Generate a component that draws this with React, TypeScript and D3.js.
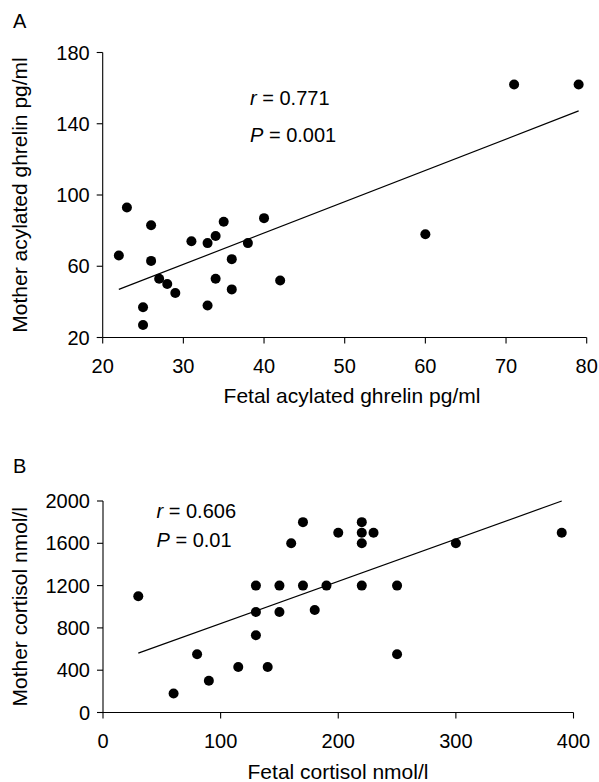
import React from "react";
import * as d3 from "d3";

// Panel A data
const fetalGhrelin = [22, 23, 26, 26, 27, 28, 29, 25, 25, 31, 33, 34, 35, 38, 36, 34, 36, 33, 40, 42, 60, 71, 79];
const motherGhrelin = [66, 93, 83, 63, 53, 50, 45, 37, 27, 74, 73, 77, 85, 73, 64, 53, 47, 38, 87, 52, 78, 162, 162];
const fitA = [
  { x: 22, y: 47 },
  { x: 79, y: 147.2 },
];
const xTicksA = [20, 30, 40, 50, 60, 70, 80];
const yTicksA = [20, 60, 100, 140, 180];

// Panel B data
const fetalCortisol = [170, 160, 200, 220, 220, 230, 220, 300, 390, 130, 150, 170, 190, 220, 250, 30, 130, 150, 180, 130, 80, 250, 115, 140, 90, 60];
const motherCortisol = [1800, 1600, 1700, 1800, 1700, 1700, 1600, 1600, 1700, 1200, 1200, 1200, 1200, 1200, 1200, 1100, 950, 950, 970, 730, 550, 550, 430, 430, 300, 180];
const fitB = [
  { x: 30, y: 562 },
  { x: 390, y: 2000 },
];
const xTicksB = [0, 100, 200, 300, 400];
const yTicksB = [0, 400, 800, 1200, 1600, 2000];

const FONT = "'Liberation Sans', Arial, Helvetica, sans-serif";

type PanelProps = {
  letter: string;
  letterY: number;
  xs: number[];
  ys: number[];
  fit: { x: number; y: number }[];
  xDomain: [number, number];
  yDomain: [number, number];
  xRange: [number, number];
  yRange: [number, number];
  xTicks: number[];
  yTicks: number[];
  xTitle: string;
  xTitleX: number;
  xTitleY: number;
  yTitle: string;
  rText: string;
  pText: string;
  annX: number;
  annY1: number;
  annY2: number;
};

function Panel(p: PanelProps) {
  const x = d3.scaleLinear().domain(p.xDomain).range(p.xRange);
  const y = d3.scaleLinear().domain(p.yDomain).range(p.yRange);
  const line = d3
    .line<{ x: number; y: number }>()
    .x((d) => x(d.x))
    .y((d) => y(d.y));
  const x0 = p.xRange[0];
  const y0 = p.yRange[0];
  const tick = 6;
  return (
    <g fontFamily={FONT} fill="#000">
      <text x={13} y={p.letterY} fontSize={20}>
        {p.letter}
      </text>
      {/* axes */}
      <line x1={x0} x2={p.xRange[1]} y1={y0} y2={y0} stroke="#000" strokeWidth={1.1} />
      <line x1={x0} x2={x0} y1={p.yRange[1]} y2={y0} stroke="#000" strokeWidth={1.1} />
      {p.xTicks.map((t) => (
        <g key={"xt" + t}>
          <line x1={x(t)} x2={x(t)} y1={y0} y2={y0 + tick} stroke="#000" strokeWidth={1.1} />
          <text x={x(t)} y={y0 + 35} fontSize={20} textAnchor="middle">
            {t}
          </text>
        </g>
      ))}
      {p.yTicks.map((t) => (
        <g key={"yt" + t}>
          <line x1={x0 - tick} x2={x0} y1={y(t)} y2={y(t)} stroke="#000" strokeWidth={1.1} />
          <text x={x0 - 13} y={y(t) + 7} fontSize={20} textAnchor="end">
            {t}
          </text>
        </g>
      ))}
      <text x={p.xTitleX} y={p.xTitleY} fontSize={21} textAnchor="middle">
        {p.xTitle}
      </text>
      <text
        transform={`translate(26.5,${(p.yRange[0] + p.yRange[1]) / 2}) rotate(-90)`}
        fontSize={21}
        textAnchor="middle"
      >
        {p.yTitle}
      </text>
      <path d={line(p.fit) || ""} fill="none" stroke="#000" strokeWidth={1.2} />
      {p.xs.map((v, i) => (
        <circle key={"c" + i} cx={x(v)} cy={y(p.ys[i])} r={5} fill="#000" />
      ))}
      <text x={p.annX} y={p.annY1} fontSize={20}>
        <tspan fontStyle="italic">r</tspan> = {p.rText}
      </text>
      <text x={p.annX} y={p.annY2} fontSize={20}>
        <tspan fontStyle="italic">P</tspan> = {p.pText}
      </text>
    </g>
  );
}

export default function App() {
  return (
    <svg
      width={599}
      height={782}
      style={{ position: "absolute", left: 0, top: 0, background: "#fff" }}
    >
      <rect width={599} height={782} fill="#fff" />
      <Panel
        letter="A"
        letterY={28}
        xs={fetalGhrelin}
        ys={motherGhrelin}
        fit={fitA}
        xDomain={[20, 80]}
        yDomain={[20, 180]}
        xRange={[102.7, 586.7]}
        yRange={[337.5, 52.5]}
        xTicks={xTicksA}
        yTicks={yTicksA}
        xTitle="Fetal acylated ghrelin pg/ml"
        xTitleX={352}
        xTitleY={403}
        yTitle="Mother acylated ghrelin pg/ml"
        rText="0.771"
        pText="0.001"
        annX={250}
        annY1={105}
        annY2={141.5}
      />
      <Panel
        letter="B"
        letterY={473}
        xs={fetalCortisol}
        ys={motherCortisol}
        fit={fitB}
        xDomain={[0, 400]}
        yDomain={[0, 2000]}
        xRange={[103, 573.5]}
        yRange={[712.5, 501]}
        xTicks={xTicksB}
        yTicks={yTicksB}
        xTitle="Fetal cortisol nmol/l"
        xTitleX={338}
        xTitleY={779}
        yTitle="Mother cortisol nmol/l"
        rText="0.606"
        pText="0.01"
        annX={156.5}
        annY1={517.5}
        annY2={547}
      />
    </svg>
  );
}
